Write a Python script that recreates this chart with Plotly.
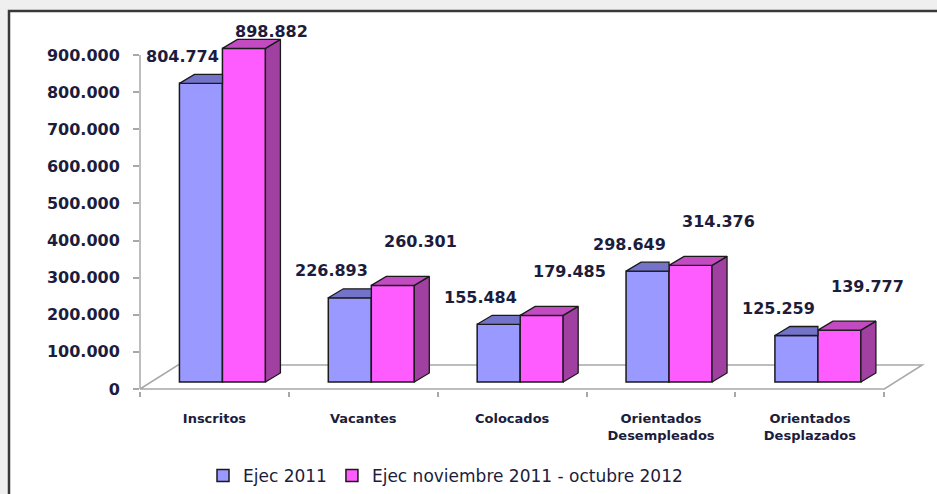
import plotly.graph_objects as go

# ---------------- data ----------------
categories = ["Inscritos", "Vacantes", "Colocados",
              "Orientados<br>Desempleados", "Orientados<br>Desplazados"]
series_names = ["Ejec 2011", "Ejec noviembre 2011 - octubre 2012"]
ejec_2011 = [804774, 226893, 155484, 298649, 125259]
ejec_nov = [898882, 260301, 179485, 314376, 139777]
y_tick_values = [0, 100000, 200000, 300000, 400000, 500000, 600000, 700000, 800000, 900000]
y_tick_labels = ["0", "100.000", "200.000", "300.000", "400.000", "500.000",
                 "600.000", "700.000", "800.000", "900.000"]

# ---------------- layout geometry ----------------
W, H = 937, 494
ML, MR, MT = 140, 8, 20
X0, X1 = -0.5, 4.8
plot_w = W - ML - MR
pxx = plot_w / (X1 - X0)            # px per category unit
upy = 900000 / 334.0                 # value units per px
YTOP = 369 * upy
YBOT = -2 * upy
plot_h = 371
MB = H - MT - plot_h

shift = 8 / pxx        # bars sit slightly back in the depth
bw = 43 / pxx          # bar width
ddx = 15 / pxx         # bar depth (x)
ddy = 9 * upy          # bar depth (y)
base = 7 * upy         # bar base lifted into depth
fdx = 38 / pxx         # floor depth
fdy = 24 * upy

BLUE, BLUE_TOP = "#9999ff", "#7373c9"
PINK, PINK_TOP, PINK_SIDE = "#ff5cff", "#c24bc2", "#a040a0"
EDGE = "#1a1a1a"
TXT = "#1c1c3c"
GRAY = "#a8a8a8"

n = len(categories)
xs = list(range(n))

fig = go.Figure()

# front faces (bars)
fig.add_trace(go.Bar(x=xs, y=ejec_2011, base=base, width=bw, offset=shift - bw,
                     name=series_names[0], marker=dict(color=BLUE, line=dict(color=EDGE, width=1.5)),
                     hoverinfo="skip"))
fig.add_trace(go.Bar(x=xs, y=ejec_nov, base=base, width=bw, offset=shift,
                     name=series_names[1], marker=dict(color=PINK, line=dict(color=EDGE, width=1.5)),
                     hoverinfo="skip"))

# blue top faces (clipped at the pink bar)
bx, by = [], []
for i, v in enumerate(ejec_2011):
    xl = i + shift - bw
    xr = i + shift
    yt = v + base
    bx += [xl, xr, xr, xl + ddx, xl, None]
    by += [yt, yt, yt + ddy, yt + ddy, yt, None]
fig.add_trace(go.Scatter(x=bx, y=by, mode="lines", fill="toself", fillcolor=BLUE_TOP,
                         line=dict(color=EDGE, width=1.3), showlegend=False, hoverinfo="skip"))

# pink top and side faces
tx, ty, sx, sy = [], [], [], []
for i, v in enumerate(ejec_nov):
    xl = i + shift
    xr = i + shift + bw
    yt = v + base
    tx += [xl, xr, xr + ddx, xl + ddx, xl, None]
    ty += [yt, yt, yt + ddy, yt + ddy, yt, None]
    sx += [xr, xr + ddx, xr + ddx, xr, xr, None]
    sy += [base, base + ddy, yt + ddy, yt, base, None]
fig.add_trace(go.Scatter(x=sx, y=sy, mode="lines", fill="toself", fillcolor=PINK_SIDE,
                         line=dict(color=EDGE, width=1.3), showlegend=False, hoverinfo="skip"))
fig.add_trace(go.Scatter(x=tx, y=ty, mode="lines", fill="toself", fillcolor=PINK_TOP,
                         line=dict(color=EDGE, width=1.3), showlegend=False, hoverinfo="skip"))

# value labels
def fmt(v):
    return f"{v:,}".replace(",", ".")

annotations = []
cap = 358 * upy
for i, v in enumerate(ejec_2011):
    annotations.append(dict(x=i + shift - bw / 2 - 18 / pxx, y=min(v + base + 27 * upy, cap),
                            text=fmt(v), showarrow=False, xanchor="center", yanchor="middle",
                            font=dict(family="DejaVu Sans", size=16, color=TXT, weight="bold")))
for i, v in enumerate(ejec_nov):
    annotations.append(dict(x=i + shift + bw / 2 + 28 / pxx, y=min(v + base + 44 * upy, cap),
                            text=fmt(v), showarrow=False, xanchor="center", yanchor="middle",
                            font=dict(family="DejaVu Sans", size=16, color=TXT, weight="bold")))

# floor and frame
floor_path = (f"M {X0},0 L {n - 0.5},0 L {n - 0.5 + fdx},{fdy} "
              f"L {X0 + fdx},{fdy} Z")
shapes = [
    dict(type="rect", xref="paper", yref="paper",
         x0=(9 - ML) / plot_w, x1=(W + 10 - ML) / plot_w,
         y0=(MT + plot_h - (H + 10)) / plot_h, y1=(MT + plot_h - 11) / plot_h,
         line=dict(color="#383838", width=2.5), fillcolor="white", layer="below"),
    dict(type="path", xref="x", yref="y", path=floor_path,
         line=dict(color=GRAY, width=1.5), fillcolor="white", layer="below"),
    dict(type="line", xref="paper", yref="y", x0=0, x1=0, y0=0, y1=y_tick_values[-1],
         line=dict(color=GRAY, width=1.5), layer="below"),
]

fig.update_layout(
    width=W, height=H, autosize=False,
    margin=dict(l=ML, r=MR, t=MT, b=MB, autoexpand=False),
    paper_bgcolor="#efefef", plot_bgcolor="rgba(0,0,0,0)",
    barmode="overlay",
    showlegend=True,
    legend=dict(orientation="h", x=(203 - ML) / plot_w, xanchor="left",
                y=(MT + plot_h - 476) / plot_h, yanchor="middle",
                font=dict(family="DejaVu Sans", size=17, color=TXT),
                bgcolor="rgba(0,0,0,0)", itemwidth=30),
    xaxis=dict(range=[X0, X1], tickmode="array", tickvals=xs, ticktext=categories,
               ticks="", showgrid=False, zeroline=False, showline=False,
               tickfont=dict(family="DejaVu Sans", size=13, color=TXT, weight="bold"),
               ticklabelstandoff=18,
               minor=dict(tickmode="array", tickvals=[k - 0.5 for k in range(n + 1)],
                          ticks="outside", ticklen=5, tickwidth=1.5, tickcolor=GRAY,
                          showgrid=False)),
    yaxis=dict(range=[YBOT, YTOP], tickmode="array", tickvals=y_tick_values,
               ticktext=y_tick_labels, ticks="outside", ticklen=6, tickwidth=1.5,
               tickcolor=GRAY, showgrid=False, zeroline=False, showline=False,
               tickfont=dict(family="DejaVu Sans", size=16, color=TXT, weight="bold"),
               ticklabelstandoff=10),
    annotations=annotations,
    shapes=shapes,
    font=dict(family="DejaVu Sans"),
)

fig.write_html("out.html")
